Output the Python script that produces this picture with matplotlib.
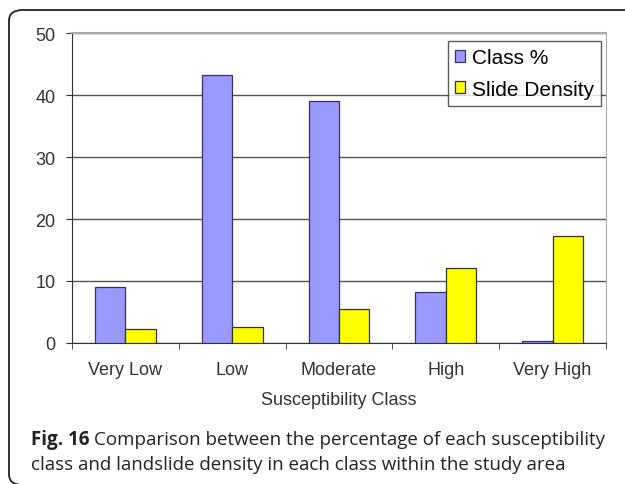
import matplotlib.pyplot as plt
from matplotlib.patches import FancyBboxPatch
import numpy as np

# dados
categorias = ["Very Low", "Low", "Moderate", "High", "Very High"]
class_pct = [9.0, 43.2, 39.0, 8.2, 0.3]
slide_density = [2.3, 2.6, 5.5, 12.1, 17.3]
yticks = [0, 10, 20, 30, 40, 50]

W, H = 625, 485
fig = plt.figure(figsize=(W / 100, H / 100), dpi=100)
plt.rcParams['font.family'] = ['Liberation Sans', 'DejaVu Sans']

# moldura arredondada (sai pela direita e quase por baixo)
moldura = FancyBboxPatch((9 / W, -1 / H), 1.2, (485 - 11 + 1) / H,
                         boxstyle="round,pad=0,rounding_size=0.022",
                         transform=fig.transFigure, facecolor='none',
                         edgecolor='#222222', linewidth=1.3, clip_on=False, zorder=-1)
fig.patches.append(moldura)

x0, x1, y0, y1 = 72, 606, 344, 34
ax = fig.add_axes([x0 / W, 1 - y0 / H, (x1 - x0) / W, (y0 - y1) / H])
x = np.arange(len(categorias))
larg = 0.285
ax.bar(x - larg / 2, class_pct, larg, color='#9999ff', edgecolor='#333366',
       linewidth=0.9, label='Class %', zorder=3)
ax.bar(x + larg / 2, slide_density, larg, color='#ffff00', edgecolor='#333333',
       linewidth=0.9, label='Slide Density', zorder=3)

ax.set_xlim(-0.5, len(categorias) - 0.5)
ax.set_ylim(0, 50)
ax.set_yticks(yticks)
ax.set_xticks(x)
ax.set_xticklabels(categorias)
ax.set_xticks(np.arange(len(categorias) + 1) - 0.5, minor=True)
ax.tick_params(axis='x', which='major', length=0, pad=13, labelsize=13, colors='#333333')
ax.tick_params(axis='x', which='minor', length=4, direction='out', color='#333333')
ax.tick_params(axis='y', length=4, pad=8, labelsize=13, colors='#333333')
ax.grid(axis='y', color='#555555', linewidth=1.0, zorder=0)
ax.spines['top'].set_color('#aaaaaa')
ax.spines['top'].set_linewidth(1.5)
ax.spines['right'].set_color('#aaaaaa')
for lado in ['left', 'bottom']:
    ax.spines[lado].set_color('#333333')
ax.set_xlabel('Susceptibility Class', fontsize=13, color='#333333', labelpad=9)

leg = ax.legend(loc='upper right', bbox_to_anchor=((601 - x0) / (x1 - x0), (y0 - 42) / (y0 - y1)),
                fontsize=15, frameon=True, fancybox=False, edgecolor='#333333',
                handlelength=0.5, handleheight=0.5, handletextpad=0.3,
                borderpad=0.35, labelspacing=0.6, borderaxespad=0)
leg.get_frame().set_linewidth(1.0)

# legenda da figura
fonte_cap = ['Open Sans', 'DejaVu Sans']
t = fig.text(31 / W, 1 - 440 / H, 'Fig. 16', fontsize=13.5, fontweight='bold',
             family=fonte_cap, color='#222222', va='center')
ax.annotate('Comparison between the percentage of each susceptibility',
            xy=(1, 0.5), xycoords=t, xytext=(3, 0), textcoords='offset points',
            fontsize=13.5, family=fonte_cap, color='#222222', va='center',
            annotation_clip=False)
fig.text(31 / W, 1 - 465 / H,
         'class and landslide density in each class within the study area',
         fontsize=13.5, family=fonte_cap, color='#222222', va='center')

fig.savefig('out.png', dpi=100)
